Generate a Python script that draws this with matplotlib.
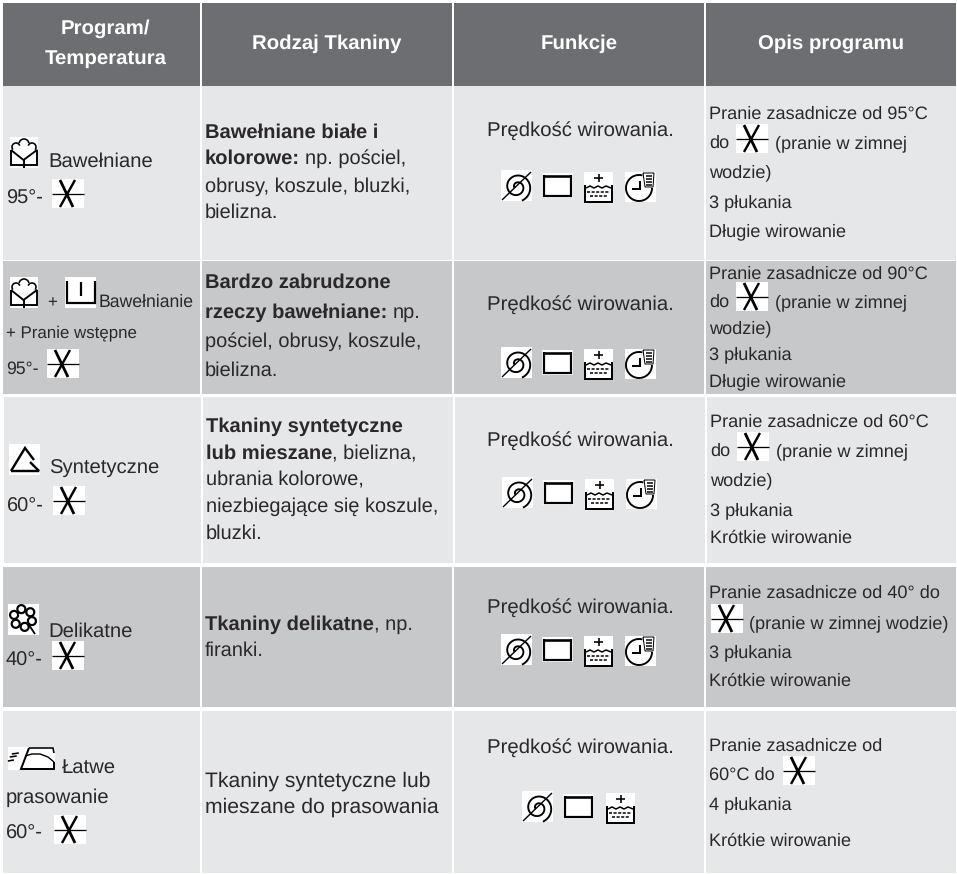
import numpy as np
import matplotlib
matplotlib.use("Agg")
import matplotlib.pyplot as plt
from matplotlib.patches import Rectangle, Arc

plt.rcParams["font.family"] = ["Liberation Sans", "DejaVu Sans"]
plt.rcParams["text.hinting"] = "no_hinting"

INK = "#2b2829"
HEAD = "#6d6e71"
LIGHT = "#e6e7e8"
MID = "#c7c8ca"

headers = [["Program/", "Temperatura"], ["Rodzaj Tkaniny"], ["Funkcje"], ["Opis programu"]]
spin = "Prędkość wirowania."

# (text, x, baseline, size)
col1 = [
    ("Bawełniane", 48, 167, 14.6), ("95°-", 6, 204, 14.4),
    ("+", 47, 307, 12.2), ("Bawełnianie", 99, 307, 12.7),
    ("+ Pranie wstępne", 6, 337, 12.2), ("95°-", 6, 374, 12.7),
    ("Syntetyczne", 49, 474, 14.6), ("60°-", 7, 512, 14.4),
    ("Delikatne", 48, 637, 14.6), ("40°-", 6, 666, 14.4),
    ("Łatwe", 62, 773, 14.6), ("prasowanie", 6, 803, 14.6), ("60°-", 6, 839, 14.4),
]
col2_bold = [
    ("Bawełniane białe i", 205, 138), ("kolorowe:", 205, 164),
    ("Bardzo zabrudzone", 205, 288), ("rzeczy bawełniane:", 205, 318),
    ("Tkaniny syntetyczne", 206, 432), ("lub mieszane", 206, 459),
    ("Tkaniny delikatne", 205, 630),
]
col2_tail = {
    "kolorowe:": " np. pościel,", "rzeczy bawełniane:": " np.",
    "lub mieszane": ", bielizna,", "Tkaniny delikatne": ", np.",
}
col2_plain = [
    ("obrusy, koszule, bluzki,", 205, 192, 14.4), ("bielizna.", 205, 218, 14.4),
    ("pościel, obrusy, koszule,", 205, 347, 14.4), ("bielizna.", 205, 376, 14.4),
    ("ubrania kolorowe,", 206, 485, 14.4), ("niezbiegające się koszule,", 206, 512, 14.4),
    ("bluzki.", 206, 539, 14.4), ("firanki.", 205, 656, 14.4),
    ("Tkaniny syntetyczne lub", 205, 787, 15.2), ("mieszane do prasowania", 205, 813, 15.2),
]
spin_baselines = [136, 310, 446, 613, 753]
col4 = [
    ("Pranie zasadnicze od 95°C", 709, 119), ("do", 709, 148), ("(pranie w zimnej", 775, 148),
    ("wodzie)", 709, 177), ("3 płukania", 709, 207), ("Długie wirowanie", 709, 236),
    ("Pranie zasadnicze od 90°C", 709, 279), ("do", 709, 307), ("(pranie w zimnej", 775, 307),
    ("wodzie)", 709, 333), ("3 płukania", 709, 359), ("Długie wirowanie", 709, 386),
    ("Pranie zasadnicze od 60°C", 710, 427), ("do", 710, 456), ("(pranie w zimnej", 776, 456),
    ("wodzie)", 710, 485), ("3 płukania", 710, 515), ("Krótkie wirowanie", 710, 543),
    ("Pranie zasadnicze od 40° do", 709, 598), ("(pranie w zimnej wodzie)", 749, 628),
    ("3 płukania", 709, 657), ("Krótkie wirowanie", 709, 686),
    ("Pranie zasadnicze od", 709, 751), ("60°C do", 709, 780),
    ("4 płukania", 709, 809), ("Krótkie wirowanie", 709, 846),
]

x_icons = [(52, 179), (736, 124), (47, 349), (736, 282), (53, 486), (737, 432),
           (52, 641), (711, 604), (54, 815), (783, 756)]
func_rows = [(501, 170, True), (501, 347, True), (502, 477, True), (501, 634, True), (522, 791, False)]

fig = plt.figure(figsize=(9.57, 8.74), dpi=100, facecolor="white")
ax = fig.add_axes([0, 0, 1, 1])
ax.set_xlim(0, 957)
ax.set_ylim(874, 0)
ax.axis("off")


def cell(x0, x1, y0, y1, color):
    ax.add_patch(Rectangle((x0, y0), x1 - x0, y1 - y0, fc=color, ec="none", zorder=1))


col_edges = [(3, 200), (202, 452), (454, 704), (706, 956)]
for a, b in col_edges:
    cell(a, b, 3, 86, HEAD)
rows = [(86, 260, LIGHT, 0), (261, 394, MID, 0), (397, 563, LIGHT, 1), (567, 707, MID, 0), (711, 873, LIGHT, 0)]
for y0, y1, c, dx in rows:
    for a, b in col_edges:
        cell(a + dx, b + dx * (b < 900), y0, y1, c)


def txt(x, y, s, size=14.4, weight="normal", ha="left", color=INK):
    return ax.text(x, y, s, fontsize=size, fontweight=weight, ha=ha, va="baseline", color=color, zorder=5)


def stroke(x, y, lw=1.5):
    ax.plot(x, y, color="black", lw=lw * 0.72, solid_capstyle="butt", solid_joinstyle="miter", zorder=4)


def box(x, y, w, h):
    ax.add_patch(Rectangle((x, y), w, h, fc="white", ec="none", zorder=3))


def arc(x, y, r, t1, t2, lw=1.5):
    # angles measured on screen, clockwise because y points down
    ax.add_patch(Arc((x, y), 2 * r, 2 * r, theta1=t1, theta2=t2, color="black", lw=lw * 0.72, zorder=4))


def icon_x(x, y):
    box(x, y, 32, 29)
    stroke([x, x + 32], [y + 15, y + 15], 1.3)
    stroke([x + 8, x + 21], [y + 1, y + 28], 2.8)
    stroke([x + 23, x + 8], [y + 1, y + 28], 2.4)


def icon_cotton(x, y):
    box(x, y, 28, 31)
    stroke([x + 1, x + 1, x + 27, x + 27, x + 13.5, x + 1], [y + 13, y + 28, y + 28, y + 13, y + 23, y + 13], 1.9)
    stroke([x + 13.5, x + 13.5], [y + 23, y + 31], 1.9)
    arc(x + 6, y + 10, 4, 140, 340, 1.6)
    arc(x + 14, y + 7, 5, 190, 350, 1.6)
    arc(x + 22, y + 10, 4, 200, 40, 1.6)


def icon_u(x, y):
    box(x, y, 31, 31)
    stroke([x + 2, x + 2, x + 30, x + 30], [y + 4, y + 26, y + 26, y + 4], 2.2)
    stroke([x + 16, x + 16], [y + 5, y + 19], 2.2)


def icon_triangle(x, y):
    box(x, y, 31, 31)
    stroke([x + 2, x + 16, x + 25], [y + 27, y + 4, y + 16], 2.4)
    stroke([x + 2, x + 30, x + 21], [y + 27, y + 27, y + 18], 2.4)


def icon_flower(x, y):
    box(x, y, 31, 31)
    for a in np.arange(20, 380, 60):
        px = x + 15 + 9.5 * np.cos(np.radians(a))
        py = y + 14 + 9 * np.sin(np.radians(a))
        arc(px, py, 4, 0, 360, 2.2)
    stroke([x + 19, x + 23, x + 27], [y + 19, y + 24, y + 30], 1.8)


def icon_iron(x, y):
    box(x, y, 47, 23)
    stroke([x + 21, x + 45, x + 46], [y + 1, y + 1, y + 6], 1.6)
    stroke([x + 21, x + 13, x + 46, x + 46], [y + 1, y + 22, y + 22, y + 15], 2.0)
    stroke(x + np.array([17, 24, 32, 40, 46]), y + np.array([9, 7, 7, 10, 15]), 1.4)
    for off, ln in zip((6, 9, 13), (7, 7, 6)):
        stroke([x + 15 - off * 0.7, x + 15 - off * 0.7 - ln], [y + off, y + off + 1], 1.6)


def icon_spiral(x, y):
    box(x, y, 31, 31)
    stroke([x + 1, x + 30], [y + 30, y + 2], 1.4)
    turn = np.linspace(-70, 560, 90)
    rad = np.interp(turn, [-70, 560], [14.5, 2.5])
    stroke(x + 16 + rad * np.cos(np.radians(-turn)), y + 17 + rad * np.sin(np.radians(-turn)), 1.9)


def icon_rect(x, y):
    box(x, y, 31, 25)
    stroke([x + 2, x + 2, x + 29, x + 29], [y + 2, y + 23, y + 23, y + 2], 2.2)
    stroke([x + 2, x + 29], [y + 3, y + 3], 2.6)


def icon_basin(x, y):
    box(x, y, 29, 31)
    stroke([x + 1, x + 1, x + 28, x + 28], [y + 13, y + 30, y + 30, y + 13], 2.0)
    stroke([x + 10, x + 19], [y + 6, y + 6], 1.6)
    stroke([x + 14.5, x + 14.5], [y + 2, y + 10], 1.6)
    stroke(x + np.array([2, 6, 10, 14, 18, 22, 27]), y + np.array([16, 14, 16, 14, 16, 14, 16]), 1.5)
    ax.plot([x + 3, x + 26], [y + 20, y + 20], color="black", lw=1.1, ls=(0, (2, 1)), zorder=4)
    ax.plot([x + 6, x + 23], [y + 24, y + 24], color="black", lw=1.1, ls=(0, (2, 1)), zorder=4)


def icon_timer(x, y):
    box(x, y, 31, 30)
    arc(x + 14, y + 16, 13, 0, 285, 1.9)
    stroke([x + 15, x + 15, x + 7], [y + 9, y + 17, y + 17], 2.0)
    stroke([x + 18, x + 29, x + 28, x + 20, x + 18], [y + 1, y + 1, y + 15, y + 15, y + 1], 1.0)
    for k in (4, 7, 10, 13):
        stroke([x + 21, x + 27], [y + k, y + k], 1.5)


# header
for i, (a, b) in enumerate(col_edges):
    lines = headers[i]
    cx = (a + b) / 2 + (4 if i == 0 else 0)
    bases = [34, 64] if len(lines) == 2 else [49]
    for s, yb in zip(lines, bases):
        txt(cx, yb, s, 14.7, "bold", "center", "white")

# first column
for s, x, y, size in col1:
    txt(x, y, s, size)

# second column, bold lead-ins continue with a regular tail
fig.canvas.draw()
rend = fig.canvas.get_renderer()
for s, x, y in col2_bold:
    t = txt(x, y, s, 14.5, "bold")
    if s in col2_tail:
        ext = t.get_window_extent(rend)
        tail = col2_tail[s]
        txt(ext.x1 + (5 if tail[0] == " " else 0), y, tail.lstrip(), 14.4)
for s, x, y, size in col2_plain:
    txt(x, y, s, size)

# third column
for yb in spin_baselines:
    txt(580, yb, spin, 14.7, ha="center")
for x, y, clock in func_rows:
    icon_spiral(x, y)
    icon_rect(x + 41, y + 3)
    icon_basin(x + 83 + (1 if not clock else 0), y + 2)
    if clock:
        icon_timer(x + 124, y + 2)

# fourth column
for s, x, y in col4:
    txt(x, y, s, 13.1)

for x, y in x_icons:
    icon_x(x, y)
icon_cotton(10, 137)
icon_cotton(10, 277)
icon_u(65, 277)
icon_triangle(9, 444)
icon_flower(8, 604)
icon_iron(8, 747)

fig.savefig("out.png", dpi=100, facecolor="white")
